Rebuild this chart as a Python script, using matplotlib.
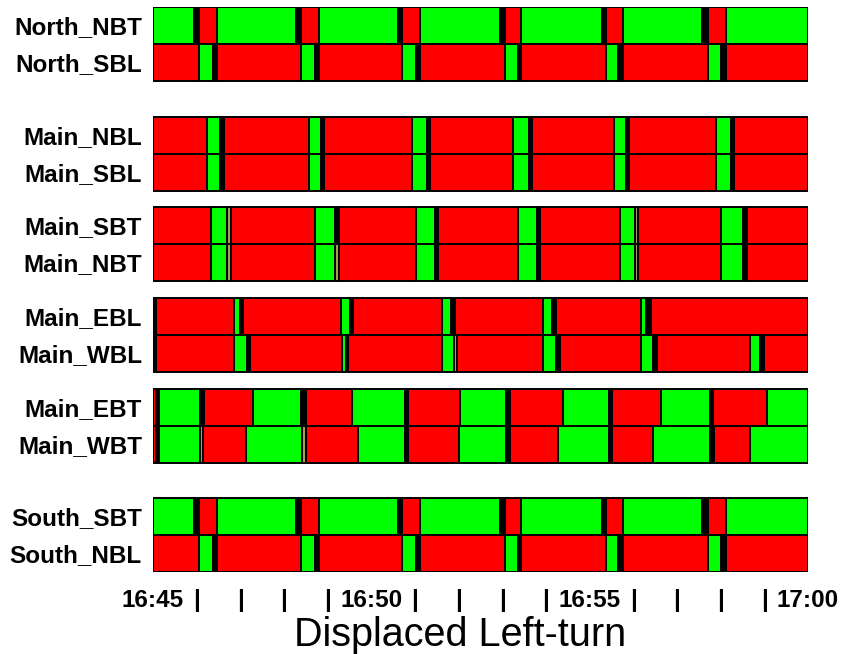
import matplotlib
matplotlib.use("Agg")
import matplotlib.pyplot as plt

# ---- data: phase boundaries in seconds after 16:45:00, and phase states ----
# G = green, R = red, Y = change interval (drawn black), y = short amber
north_nbt_t = [0, 57, 63, 88, 197, 203, 228, 337, 342, 367, 477, 484, 506, 617, 623, 646, 755, 762, 787, 900]
north_nbt_s = "GYRGYRGYRGYRGYRGYRG"
north_sbl_t = [0, 63, 83, 88, 203, 223, 228, 342, 362, 367, 484, 502, 506, 623, 639, 646, 762, 781, 787, 900]
north_sbl_s = "RGYRGYRGYRGYRGYRGYR"

main_nbl_t = [0, 74, 92, 97, 214, 231, 235, 356, 376, 381, 494, 516, 521, 634, 650, 654, 774, 794, 798, 900]
main_nbl_s = "RGYRGYRGYRGYRGYRGYR"
main_sbl_t = [0, 74, 92, 97, 214, 231, 235, 356, 376, 381, 494, 516, 521, 634, 650, 654, 774, 794, 798, 900]
main_sbl_s = "RGYRGYRGYRGYRGYRGYR"

main_sbt_t = [0, 80, 102, 107, 223, 250, 255, 362, 388, 392, 501, 527, 532, 642, 662, 667, 781, 811, 816, 900]
main_sbt_s = "RGyRGYRGYRGYRGyRGYR"
main_nbt_t = [0, 80, 102, 107, 223, 250, 255, 362, 388, 392, 501, 527, 532, 642, 662, 667, 781, 811, 816, 900]
main_nbt_s = "RGyRGyRGYRGYRGyRGYR"

main_ebl_t = [0, 4, 111, 119, 123, 259, 271, 275, 397, 410, 415, 536, 548, 554, 670, 678, 684, 900]
main_ebl_s = "YRGYRGYRGYRGYRGYR"
main_wbl_t = [0, 4, 111, 129, 133, 260, 265, 268, 397, 413, 418, 536, 554, 559, 670, 687, 693, 820, 834, 840, 900]
main_wbl_s = "YRGYRGYRGyRGYRGYRGYR"

main_ebt_t = [0, 4, 8, 65, 70, 138, 204, 210, 273, 346, 351, 422, 485, 491, 563, 626, 630, 698, 765, 770, 843, 900]
main_ebt_s = "RYGYRGYRGYRGYRGYRGYRG"
main_wbt_t = [0, 4, 8, 65, 69, 128, 205, 210, 282, 346, 351, 420, 485, 491, 557, 626, 630, 687, 765, 771, 820, 900]
main_wbt_s = "RYGyRGyRGYRGYRGYRGYRG"

south_sbt_t = [0, 57, 63, 88, 197, 203, 228, 337, 342, 367, 477, 484, 506, 617, 623, 646, 755, 762, 787, 900]
south_sbt_s = "GYRGYRGYRGYRGYRGYRG"
south_nbl_t = [0, 63, 83, 88, 203, 223, 228, 342, 362, 367, 484, 502, 506, 623, 639, 646, 762, 781, 787, 900]
south_nbl_s = "RGYRGYRGYRGYRGYRGYR"

row_labels = ["North_NBT", "North_SBL", "Main_NBL", "Main_SBL", "Main_SBT", "Main_NBT",
              "Main_EBL", "Main_WBL", "Main_EBT", "Main_WBT", "South_SBT", "South_NBL"]
row_times = [north_nbt_t, north_sbl_t, main_nbl_t, main_sbl_t, main_sbt_t, main_nbt_t,
             main_ebl_t, main_wbl_t, main_ebt_t, main_wbt_t, south_sbt_t, south_nbl_t]
row_states = [north_nbt_s, north_sbl_s, main_nbl_s, main_sbl_s, main_sbt_s, main_nbt_s,
              main_ebl_s, main_wbl_s, main_ebt_s, main_wbt_s, south_sbt_s, south_nbl_s]

tick_seconds = [0, 60, 120, 180, 240, 300, 360, 420, 480, 540, 600, 660, 720, 780, 840, 900]
tick_labels = ["16:45", "|", "|", "|", "|", "16:50", "|", "|", "|", "|",
               "16:55", "|", "|", "|", "|", "17:00"]
x_title = "Displaced Left-turn"

# ---- styling / layout ----
colors = {"G": "#00ff00", "R": "#ff0000", "Y": "#000000", "y": "#a89f4a"}
group_tops = [0, 110, 200, 291, 382, 491]
row_h = 37

W, H = 843, 654
fig = plt.figure(figsize=(W / 100, H / 100), dpi=100)
ax = fig.add_axes([153 / W, 1 - 572 / H, 655 / W, 565 / H])

ycent = []
for i, (lab, ts, ss) in enumerate(zip(row_labels, row_times, row_states)):
    top = group_tops[i // 2] + (i % 2) * row_h
    ycent.append(top + row_h / 2)
    for st in "RGYy":
        segs = [(ts[k], ts[k + 1] - ts[k]) for k in range(len(ss)) if ss[k] == st]
        if segs:
            ax.broken_barh(segs, (top, row_h), facecolors=colors[st],
                           edgecolors="black", linewidth=1.4)

ax.set_xlim(0, 900)
ax.set_ylim(565, 0)
for sp in ax.spines.values():
    sp.set_visible(False)

ax.set_yticks(ycent)
ax.set_yticklabels(row_labels, fontsize=17.5, fontweight="bold", family="Liberation Sans")
ax.tick_params(axis="y", length=0, pad=8)
ax.set_xticks(tick_seconds)
ax.set_xticklabels(tick_labels, fontsize=17.5, fontweight="bold", family="Liberation Sans")
ax.tick_params(axis="x", length=0, pad=12)

fig.text(460 / W, 1 - 646 / H, x_title, fontsize=28.5, family="Liberation Sans",
         ha="center", va="baseline")

fig.savefig("out.png", dpi=100)
